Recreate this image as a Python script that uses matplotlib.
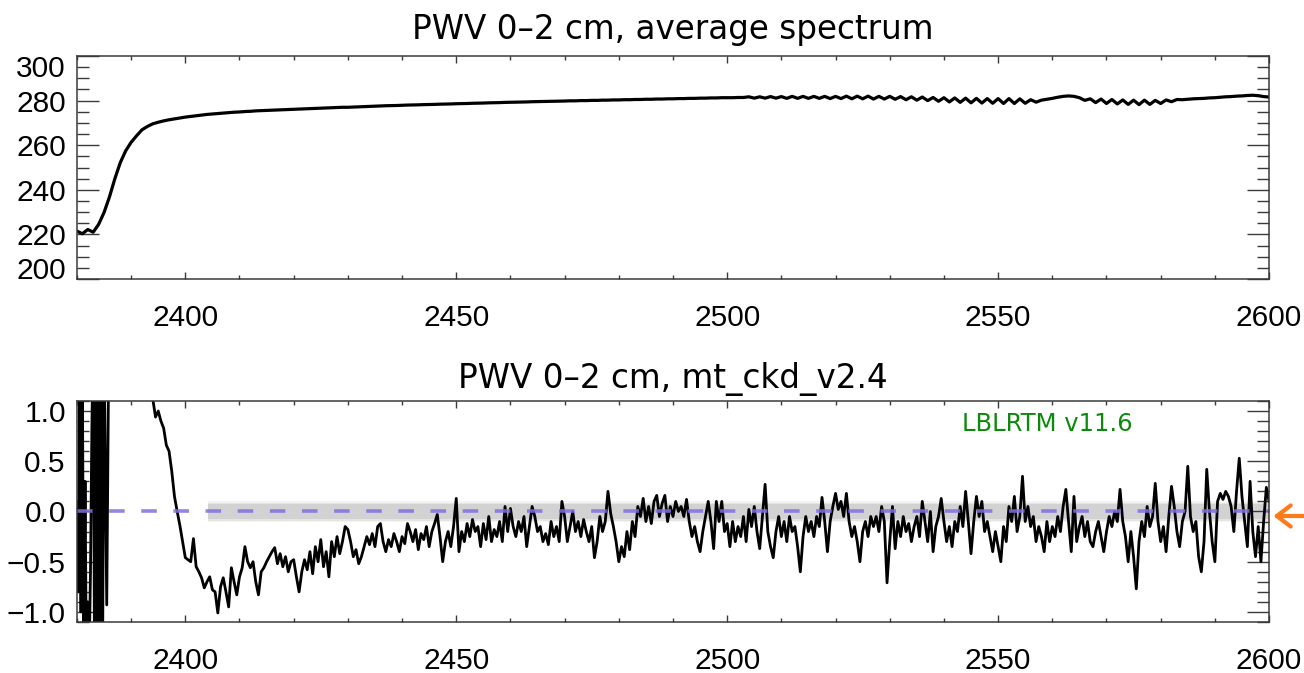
import numpy as np
import matplotlib.pyplot as plt
from matplotlib.patches import FancyArrowPatch
from matplotlib.transforms import ScaledTranslation

plt.rcParams['font.family'] = ['Liberation Sans', 'DejaVu Sans']

# average brightness temperature spectrum, 1 cm-1 grid from 2380
spec_start = 2380.0
spec_step = 1.0
avg_spectrum = [
    221.5, 220.3, 222.2, 221.0, 224.5, 229.8, 236.8, 245.0, 252.2, 257.5,
    261.3, 264.2, 266.9, 268.4, 269.6, 270.3, 270.9, 271.4, 271.8, 272.2,
    272.6, 272.9, 273.2, 273.5, 273.8, 274.0, 274.2, 274.4, 274.6, 274.8,
    274.9, 275.1, 275.2, 275.4, 275.5, 275.6, 275.7, 275.8, 275.9, 276.0,
    276.1, 276.2, 276.3, 276.4, 276.5, 276.6, 276.7, 276.8, 276.9, 277.0,
    277.0, 277.1, 277.2, 277.3, 277.4, 277.5, 277.6, 277.7, 277.75, 277.8,
    277.9, 278.0, 278.05, 278.1, 278.2, 278.25, 278.3, 278.4, 278.45, 278.5,
    278.6, 278.65, 278.7, 278.8, 278.85, 278.9, 279.0, 279.05, 279.1, 279.2,
    279.25, 279.3, 279.35, 279.4, 279.5, 279.55, 279.6, 279.65, 279.7, 279.75,
    279.8, 279.9, 279.9, 280.0, 280.0, 280.1, 280.1, 280.2, 280.2, 280.3,
    280.3, 280.4, 280.4, 280.5, 280.5, 280.6, 280.6, 280.7, 280.7, 280.8,
    280.8, 280.9, 280.9, 281.0, 281.0, 281.1, 281.1, 281.2, 281.2, 281.3,
    281.3, 281.3, 281.4, 281.4, 281.7, 281.1, 281.7, 281.1, 281.8, 281.1,
    281.8, 281.0, 281.9, 281.0, 281.9, 281.0, 281.9, 281.0, 281.9, 280.9,
    281.9, 280.9, 282.0, 280.8, 282.0, 280.8, 282.0, 280.7, 281.9, 280.7,
    281.9, 280.6, 281.8, 280.4, 281.7, 280.2, 281.6, 280.0, 281.4, 279.7,
    281.3, 279.4, 281.2, 279.2, 281.1, 279.0, 281.0, 278.9, 280.9, 278.8,
    280.9, 278.7, 280.9, 278.7, 280.8, 278.8, 280.4, 279.3, 280.2, 280.6,
    281.0, 281.5, 281.9, 282.1, 281.9, 281.3, 280.1, 280.8, 279.1, 280.7,
    278.7, 280.5, 278.5, 280.3, 278.3, 280.2, 278.2, 280.2, 278.3, 280.1,
    278.7, 280.3, 279.5, 280.5, 280.4, 280.6, 280.8, 280.9, 281.0, 281.2,
    281.3, 281.5, 281.7, 281.8, 282.0, 282.1, 282.3, 282.4, 282.2, 281.8,
    281.6,
]

# residuals (obs - calc), band edge on a 0.25 cm-1 grid, then 0.5 cm-1
resid_edge_start = 2380.0
resid_edge_step = 0.25
resid_edge = [
    0.1, -0.8, 1.5, -1.0, 1.4, -1.5, 0.3, -1.6, -0.9, -1.5,
    -0.6, 0.8, 1.8, -1.6, 2.0, -1.7, 1.9, -1.4, 2.2, -1.3,
]
resid_start = 2385.0
resid_step = 0.5
resid = [
    1.7, -0.93, 2.5, 2.6, 3.0, 3.3, 3.4, 3.2, 2.9, 2.6,
    2.3, 2.0, 1.8, 1.6, 1.45, 1.3, 1.2, 1.15, 1.12, 0.94,
    1.0, 0.9, 0.83, 0.66, 0.6, 0.4, 0.15, 0.0, -0.14, -0.3,
    -0.46, -0.48, -0.5, -0.27, -0.55, -0.6, -0.66, -0.76, -0.7, -0.65,
    -0.78, -0.8, -1.01, -0.75, -0.66, -0.8, -0.95, -0.56, -0.7, -0.83,
    -0.65, -0.56, -0.35, -0.5, -0.56, -0.5, -0.7, -0.83, -0.6, -0.56,
    -0.5, -0.45, -0.4, -0.36, -0.52, -0.42, -0.55, -0.45, -0.6, -0.5,
    -0.48, -0.65, -0.8, -0.6, -0.48, -0.58, -0.4, -0.62, -0.35, -0.5,
    -0.28, -0.55, -0.4, -0.65, -0.3, -0.45, -0.25, -0.42, -0.3, -0.15,
    -0.18, -0.3, -0.45, -0.38, -0.52, -0.45, -0.35, -0.25, -0.33, -0.22,
    -0.35, -0.15, -0.12, -0.3, -0.4, -0.28, -0.35, -0.22, -0.3, -0.4,
    -0.25, -0.32, -0.12, -0.2, -0.3, -0.18, -0.38, -0.22, -0.28, -0.15,
    -0.35, -0.2, -0.12, -0.03, -0.25, -0.5, -0.3, -0.2, -0.35, -0.15,
    0.13, -0.4, -0.2, -0.3, -0.12, -0.25, -0.08, -0.2, -0.15, -0.35,
    -0.12, -0.28, -0.05, -0.3, -0.18, -0.25, -0.1, -0.3, 0.05, -0.2,
    0.03, -0.15, -0.25, -0.1, -0.2, -0.05, -0.35, -0.15, 0.05, -0.05,
    -0.2, -0.15, -0.3, -0.22, -0.33, -0.1, -0.25, -0.15, -0.3, 0.1,
    -0.05, -0.3, -0.15, 0.0, -0.2, -0.1, -0.25, -0.08, -0.2, -0.3,
    -0.15, -0.46, -0.3, -0.05, -0.2, -0.1, 0.2, -0.02, -0.15, -0.3,
    -0.5, -0.35, -0.45, -0.2, -0.38, -0.1, -0.25, 0.05, -0.05, 0.13,
    -0.1, 0.05, -0.12, 0.1, 0.16, -0.05, 0.08, 0.16, -0.1, 0.05,
    -0.05, 0.1, 0.0, 0.05, -0.05, 0.12, -0.1, -0.25, -0.15, -0.3,
    -0.4, -0.2, -0.05, 0.1, -0.1, -0.37, 0.1, -0.1, 0.1, -0.2,
    -0.12, -0.35, -0.1, -0.3, -0.15, -0.25, -0.05, -0.3, 0.02, -0.15,
    0.05, -0.2, -0.37, -0.05, 0.27, -0.2, -0.35, -0.46, -0.2, -0.05,
    -0.25, -0.1, -0.3, -0.05, -0.2, -0.15, -0.35, -0.6, -0.25, -0.05,
    -0.2, -0.1, -0.25, -0.05, -0.15, 0.14, -0.1, -0.4, -0.1, 0.05,
    0.18, 0.02, 0.1, -0.05, 0.18, -0.1, -0.25, -0.15, -0.3, -0.5,
    -0.2, -0.1, -0.25, -0.05, -0.15, -0.05, -0.2, 0.05, -0.1, -0.71,
    -0.3, 0.05, -0.37, -0.1, -0.25, -0.05, -0.2, -0.12, -0.3, -0.15,
    -0.05, -0.25, 0.1, -0.1, -0.3, 0.0, -0.4, -0.15, -0.05, 0.13,
    -0.1, -0.3, -0.15, -0.35, -0.1, -0.2, 0.05, -0.15, 0.2, -0.1,
    -0.42, -0.1, 0.15, -0.05, 0.1, -0.2, -0.1, -0.25, -0.4, -0.2,
    -0.35, -0.5, -0.15, -0.3, 0.05, -0.1, 0.15, -0.2, -0.05, 0.35,
    -0.1, 0.05, -0.15, -0.05, -0.3, -0.15, -0.25, -0.4, -0.1, -0.3,
    -0.15, -0.25, -0.05, -0.2, 0.05, 0.22, -0.1, -0.4, 0.15, -0.3,
    -0.15, -0.05, -0.25, -0.1, -0.3, -0.35, -0.2, -0.1, -0.25, -0.4,
    -0.2, -0.05, -0.15, 0.0, -0.1, 0.22, -0.1, -0.25, -0.5, -0.2,
    -0.45, -0.77, -0.3, -0.1, -0.25, 0.05, -0.15, -0.05, 0.28, -0.1,
    -0.3, -0.15, -0.4, -0.05, 0.25, 0.05, -0.2, -0.35, -0.1, 0.0,
    0.45, -0.05, -0.2, -0.1, -0.45, -0.6, -0.3, 0.42, 0.0, -0.3,
    -0.5, 0.1, 0.18, 0.12, 0.2, 0.15, 0.05, -0.2, 0.2, 0.53,
    0.15, -0.1, -0.35, 0.3, -0.2, -0.45, -0.15, -0.5, -0.1, 0.24,
    0.1,
]

x_ticks = [2400, 2450, 2500, 2550, 2600]
top_yticks = [200, 220, 240, 260, 280, 300]
bot_yticks = [-1.0, -0.5, 0.0, 0.5, 1.0]
bot_ytick_labels = ['\u22121.0', '\u22120.5', '0.0', '0.5', '1.0']

# shaded uncertainty band (start wavenumber, lower, upper)
band_start = 2404.2
band_lo, band_hi = -0.09, 0.085

spec_x = spec_start + spec_step * np.arange(len(avg_spectrum))
res_x = np.concatenate([
    resid_edge_start + resid_edge_step * np.arange(len(resid_edge)),
    resid_start + resid_step * np.arange(len(resid)),
])
res_y = np.concatenate([resid_edge, resid])

fig = plt.figure(figsize=(13.04, 6.73), dpi=100)
ax1 = fig.add_axes([0.059, 0.5854, 0.9142, 0.3314])
ax2 = fig.add_axes([0.059, 0.0758, 0.9142, 0.3284])

edge = '#3a3a3a'
for ax in (ax1, ax2):
    ax.set_xlim(2380, 2600)
    ax.set_xticks(x_ticks)
    ax.set_xticks(np.arange(2380, 2601, 10), minor=True)
    ax.tick_params(axis='both', which='both', direction='in', top=True,
                   right=True, color=edge, width=1.0, labelsize=21.5)
    ax.tick_params(axis='x', which='major', length=5, pad=18)
    ax.tick_params(axis='x', which='minor', length=3)
    ax.tick_params(axis='y', which='major', length=16, pad=8)
    ax.tick_params(axis='y', which='minor', length=8.5)
    for s in ax.spines.values():
        s.set_color(edge)
        s.set_linewidth(1.1)

title_font = dict(fontsize=23.5, family=['DejaVu Sans'])

# top panel
ax1.plot(spec_x, avg_spectrum, color='black', lw=2.3)
ax1.set_ylim(200, 300)
ax1.set_yticks(top_yticks)
ax1.set_yticks(np.arange(200, 301, 5), minor=True)
ax1.set_title('PWV 0\u20132 cm, average spectrum', pad=12, **title_font)
# IDL pulls the end labels inside the axis
major = ax1.yaxis.get_major_ticks(len(top_yticks))
for v, tick in zip(top_yticks, major):
    if v == 300:
        tick.label1.set_transform(tick.label1.get_transform() +
                                  ScaledTranslation(0, -0.10, fig.dpi_scale_trans))
    elif v == 200:
        tick.label1.set_transform(tick.label1.get_transform() +
                                  ScaledTranslation(0, 0.11, fig.dpi_scale_trans))

# bottom panel
ax2.plot(res_x, res_y, color='black', lw=2.0)
ax2.axhline(0.0, color='#7f70e0', lw=2.6, dashes=(4.3, 4.6), alpha=0.85)
for lo, hi, a in [(band_lo - 0.015, band_hi + 0.015, 0.10),
                  (band_lo, band_hi, 0.16),
                  (band_lo + 0.015, band_hi - 0.015, 0.24)]:
    ax2.fill_between([band_start, 2600], lo, hi, color='#999999', alpha=a, lw=0)
ax2.set_ylim(-1.1, 1.1)
ax2.set_yticks(bot_yticks)
ax2.set_yticklabels(bot_ytick_labels)
ax2.set_yticks(np.arange(-1.1, 1.11, 0.1), minor=True)
ax2.set_title('PWV 0\u20132 cm, mt_ckd_v2.4', pad=9, **title_font)
ax2.text(2543.3, 0.87, 'LBLRTM v11.6', color='#0b8a0b', fontsize=17.5,
         family=['DejaVu Sans'], ha='left', va='center')

arrow = FancyArrowPatch((1.01, 0.2333), (0.9765, 0.2333),
                        transform=fig.transFigure, color='#ff7a1a', lw=3,
                        arrowstyle='->,head_length=0.5,head_width=0.38',
                        mutation_scale=20, shrinkA=0, shrinkB=0)
fig.add_artist(arrow)

fig.savefig('out.png', dpi=100)
